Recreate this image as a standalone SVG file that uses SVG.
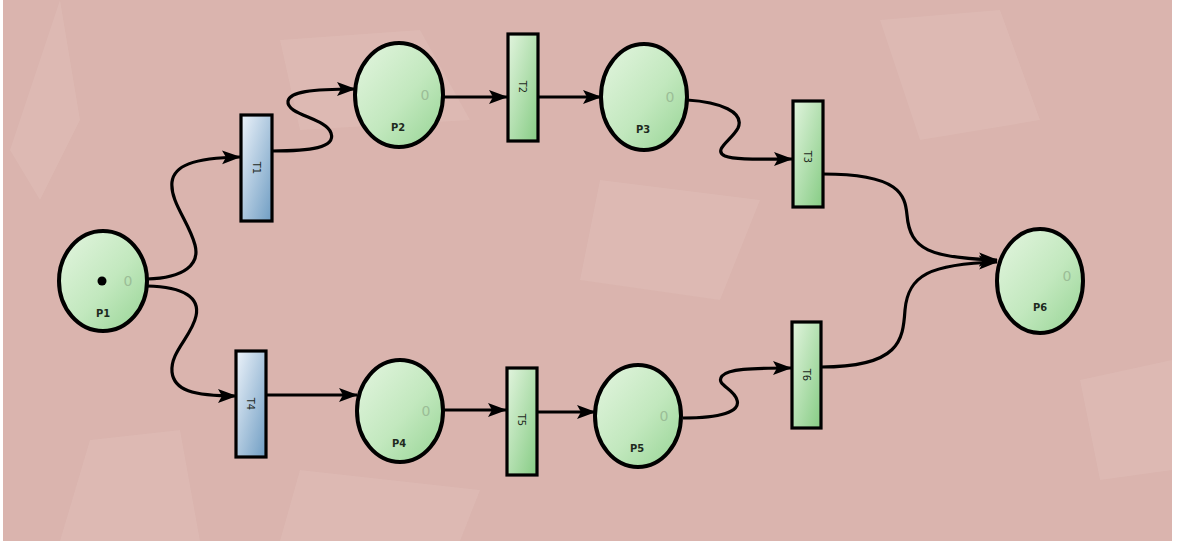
<svg xmlns="http://www.w3.org/2000/svg" width="1177" height="547" viewBox="0 0 1177 547">
<defs>
<linearGradient id="gPlace" x1="0" y1="0" x2="1" y2="1">
<stop offset="0" stop-color="#e4f5e0"/>
<stop offset="0.55" stop-color="#c2e8be"/>
<stop offset="1" stop-color="#96d494"/>
</linearGradient>
<linearGradient id="gGreen" x1="0" y1="0" x2="1" y2="1">
<stop offset="0" stop-color="#e2f4de"/>
<stop offset="1" stop-color="#86cc84"/>
</linearGradient>
<linearGradient id="gBlue" x1="0" y1="0" x2="1" y2="1">
<stop offset="0" stop-color="#edf3fa"/>
<stop offset="1" stop-color="#6f9dc3"/>
</linearGradient>
<marker id="arr" markerWidth="20" markerHeight="16" refX="18" refY="8" orient="auto" markerUnits="userSpaceOnUse">
<path d="M0,1 L19,8 L0,15 L4,8 Z" fill="#000"/>
</marker>
<style>
.place{fill:url(#gPlace);stroke:#000;stroke-width:4}
.tg{fill:url(#gGreen);stroke:#000;stroke-width:3.2}
.tb{fill:url(#gBlue);stroke:#000;stroke-width:3.2}
.lbl{font-family:"DejaVu Sans Condensed","DejaVu Sans",sans-serif;font-size:11px;font-weight:bold;fill:#1e2a1e;text-anchor:middle}
.tl{font-family:"DejaVu Sans Condensed","DejaVu Sans",sans-serif;font-size:11px;fill:#1e2a1e;text-anchor:middle}
.cnt{font-family:"DejaVu Sans",sans-serif;font-size:14px;fill:#9bbd97;text-anchor:middle}
.edge{fill:none;stroke:#000;stroke-width:3.2;marker-end:url(#arr)}
</style>
</defs>
<rect x="0" y="0" width="1177" height="547" fill="#ffffff"/>
<rect x="3" y="0" width="1169" height="541" fill="#dab4ae"/>
<g opacity="0.14" fill="#f4dcd3">
<path d="M60,0 L80,120 L40,200 L10,150 Z"/>
<path d="M280,40 L420,30 L470,120 L300,130 Z"/>
<path d="M90,440 L180,430 L200,541 L60,541 Z"/>
<path d="M600,180 L760,200 L720,300 L580,280 Z"/>
<path d="M880,20 L1000,10 L1040,120 L920,140 Z"/>
<path d="M300,470 L480,490 L460,541 L280,541 Z"/>
<path d="M1080,380 L1172,360 L1172,470 L1100,480 Z"/>
</g>
<g id="connectors">
<path class="edge" d="M147,279 C185,278 200,264 195,245 C189,222 170,202 172,182 C174,166 192,158 240,157"/>
<path class="edge" d="M272,151 C310,151 336,148 331,133 C326,118 286,115 288,101 C290,92 310,89 355,89"/>
<path class="edge" d="M443,97 L507,97"/>
<path class="edge" d="M539,97 L601,97"/>
<path class="edge" d="M687,100 C720,102 745,112 738,128 C732,140 712,150 725,156 C735,160 760,159 792,159"/>
<path class="edge" d="M823,174 C900,174 905,195 907,215 C910,250 930,258 997,260"/>
<path class="edge" d="M821,367 C900,367 903,340 905,310 C908,275 930,264 997,262"/>
<path class="edge" d="M147,286 C185,287 200,298 196,316 C192,336 170,352 172,372 C174,390 192,396 236,396"/>
<path class="edge" d="M266,395 L357,395"/>
<path class="edge" d="M443,410 L506,410"/>
<path class="edge" d="M537,412 L595,412"/>
<path class="edge" d="M683,418 C720,418 741,412 737,400 C734,388 715,385 722,376 C728,369 750,368 791,368"/>
</g>
<g id="P1">
<ellipse class="place" cx="103" cy="281" rx="44" ry="50"/>
<circle cx="102" cy="281" r="4.5" fill="#000"/>
<text class="cnt" x="128" y="286">0</text>
<text class="lbl" x="103" y="317">P1</text>
</g>
<g id="P2">
<ellipse class="place" cx="399" cy="95" rx="44" ry="52"/>
<text class="cnt" x="425" y="100">0</text>
<text class="lbl" x="398" y="131">P2</text>
</g>
<g id="P3">
<ellipse class="place" cx="644" cy="97" rx="43" ry="53"/>
<text class="cnt" x="670" y="102">0</text>
<text class="lbl" x="643" y="133">P3</text>
</g>
<g id="P4">
<ellipse class="place" cx="400" cy="411" rx="43" ry="51"/>
<text class="cnt" x="426" y="416">0</text>
<text class="lbl" x="399" y="447">P4</text>
</g>
<g id="P5">
<ellipse class="place" cx="638" cy="416" rx="43" ry="51"/>
<text class="cnt" x="664" y="421">0</text>
<text class="lbl" x="637" y="452">P5</text>
</g>
<g id="P6">
<ellipse class="place" cx="1040" cy="281" rx="43" ry="52"/>
<text class="cnt" x="1067" y="281">0</text>
<text class="lbl" x="1040" y="311">P6</text>
</g>
<g id="T1">
<rect class="tb" x="241" y="115" width="31" height="106"/>
<text class="tl" transform="translate(256.5,168) rotate(90)" y="4">T1</text>
</g>
<g id="T2">
<rect class="tg" x="508" y="34" width="30" height="107"/>
<text class="tl" transform="translate(523,87) rotate(90)" y="4">T2</text>
</g>
<g id="T3">
<rect class="tg" x="793" y="101" width="30" height="106"/>
<text class="tl" transform="translate(808,157) rotate(90)" y="4">T3</text>
</g>
<g id="T4">
<rect class="tb" x="236" y="351" width="30" height="106"/>
<text class="tl" transform="translate(251,404) rotate(90)" y="4">T4</text>
</g>
<g id="T5">
<rect class="tg" x="507" y="368" width="30" height="107"/>
<text class="tl" transform="translate(522,420) rotate(90)" y="4">T5</text>
</g>
<g id="T6">
<rect class="tg" x="792" y="322" width="29" height="106"/>
<text class="tl" transform="translate(806.5,375) rotate(90)" y="4">T6</text>
</g>
</svg>
